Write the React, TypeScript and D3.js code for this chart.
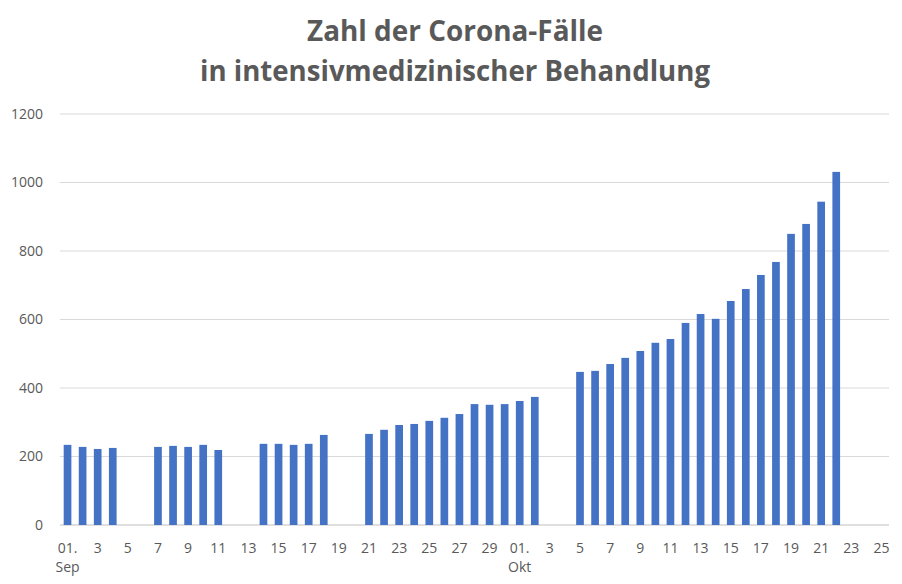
import * as d3 from "d3";

// reporting days (no data on Sep 5/6, 12/13, 19/20 and Oct 3/4)
const reportDates = [
  "2020-09-01", "2020-09-02", "2020-09-03", "2020-09-04",
  "2020-09-07", "2020-09-08", "2020-09-09", "2020-09-10", "2020-09-11",
  "2020-09-14", "2020-09-15", "2020-09-16", "2020-09-17", "2020-09-18",
  "2020-09-21", "2020-09-22", "2020-09-23", "2020-09-24", "2020-09-25",
  "2020-09-26", "2020-09-27", "2020-09-28", "2020-09-29", "2020-09-30",
  "2020-10-01", "2020-10-02",
  "2020-10-05", "2020-10-06", "2020-10-07", "2020-10-08", "2020-10-09",
  "2020-10-10", "2020-10-11", "2020-10-12", "2020-10-13", "2020-10-14",
  "2020-10-15", "2020-10-16", "2020-10-17", "2020-10-18", "2020-10-19",
  "2020-10-20", "2020-10-21", "2020-10-22",
];

const icuCases = [
  234, 228, 222, 225,
  228, 231, 228, 234, 219,
  237, 237, 234, 237, 263,
  266, 278, 292, 295, 304,
  313, 324, 353, 351, 353,
  362, 374,
  447, 450, 470, 488, 508,
  532, 543, 590, 616, 602,
  654, 689, 730, 768, 850,
  879, 944, 1031,
];

const yTicks = [0, 200, 400, 600, 800, 1000, 1200];
const titleLines = ["Zahl der Corona-Fälle", "in intensivmedizinischer Behandlung"];
const monthLabels: Record<string, string> = { "2020-09-01": "Sep", "2020-10-01": "Okt" };

const W = 902;
const H = 584;
const margin = { top: 114, right: 13, bottom: 59, left: 60 };

const fmt = d3.timeFormat("%Y-%m-%d");
const allDays = d3.timeDay
  .range(new Date(2020, 8, 1), new Date(2020, 9, 26))
  .map((d) => fmt(d));

export default function App() {
  const x = d3
    .scaleBand<string>()
    .domain(allDays)
    .range([margin.left, W - margin.right])
    .paddingInner(0.49)
    .paddingOuter(0.245);

  const y = d3
    .scaleLinear()
    .domain([0, 1200])
    .range([H - margin.bottom, margin.top]);

  const tickDays = allDays.filter((_, i) => i % 2 === 0);
  const dayLabel = (s: string) => {
    const d = +s.slice(8);
    return d === 1 ? "01." : String(d);
  };

  const textColor = "#595959";
  const font = "'Open Sans', 'Liberation Sans', sans-serif";

  return (
    <svg
      width={W}
      height={H}
      style={{ position: "absolute", left: 0, top: 0 }}
      fontFamily={font}
    >
      <rect width={W} height={H} fill="#fff" />
      {titleLines.map((t, i) => (
        <text
          key={t}
          x={455}
          y={41 + i * 40}
          textAnchor="middle"
          fontSize={29}
          fontWeight="bold"
          fill={textColor}
          fontFamily="'Liberation Sans Narrow', 'Open Sans', sans-serif"
          textLength={i === 0 ? 296 : 510}
          lengthAdjust="spacingAndGlyphs"
        >
          {t}
        </text>
      ))}

      {yTicks.map((t) => (
        <g key={t}>
          <line
            x1={margin.left}
            x2={W - margin.right}
            y1={y(t)}
            y2={y(t)}
            stroke={t === 0 ? "#bfbfbf" : "#d9d9d9"}
            strokeWidth={1}
          />
          <text
            x={43}
            y={y(t)}
            dy="0.35em"
            textAnchor="end"
            fontSize={14}
            fill={textColor}
          >
            {t}
          </text>
        </g>
      ))}

      {reportDates.map((d, i) => (
        <rect
          key={d}
          x={x(d)}
          y={y(icuCases[i])}
          width={x.bandwidth()}
          height={y(0) - y(icuCases[i])}
          fill="#4472C4"
        />
      ))}

      {tickDays.map((d) => {
        const cx = (x(d) ?? 0) + x.bandwidth() / 2;
        return (
          <g key={d}>
            <text
              x={cx}
              y={553}
              textAnchor="middle"
              fontSize={14}
              fill={textColor}
            >
              {dayLabel(d)}
            </text>
            {monthLabels[d] && (
              <text
                x={cx}
                y={572}
                textAnchor="middle"
                fontSize={14}
                fill={textColor}
              >
                {monthLabels[d]}
              </text>
            )}
          </g>
        );
      })}
    </svg>
  );
}
